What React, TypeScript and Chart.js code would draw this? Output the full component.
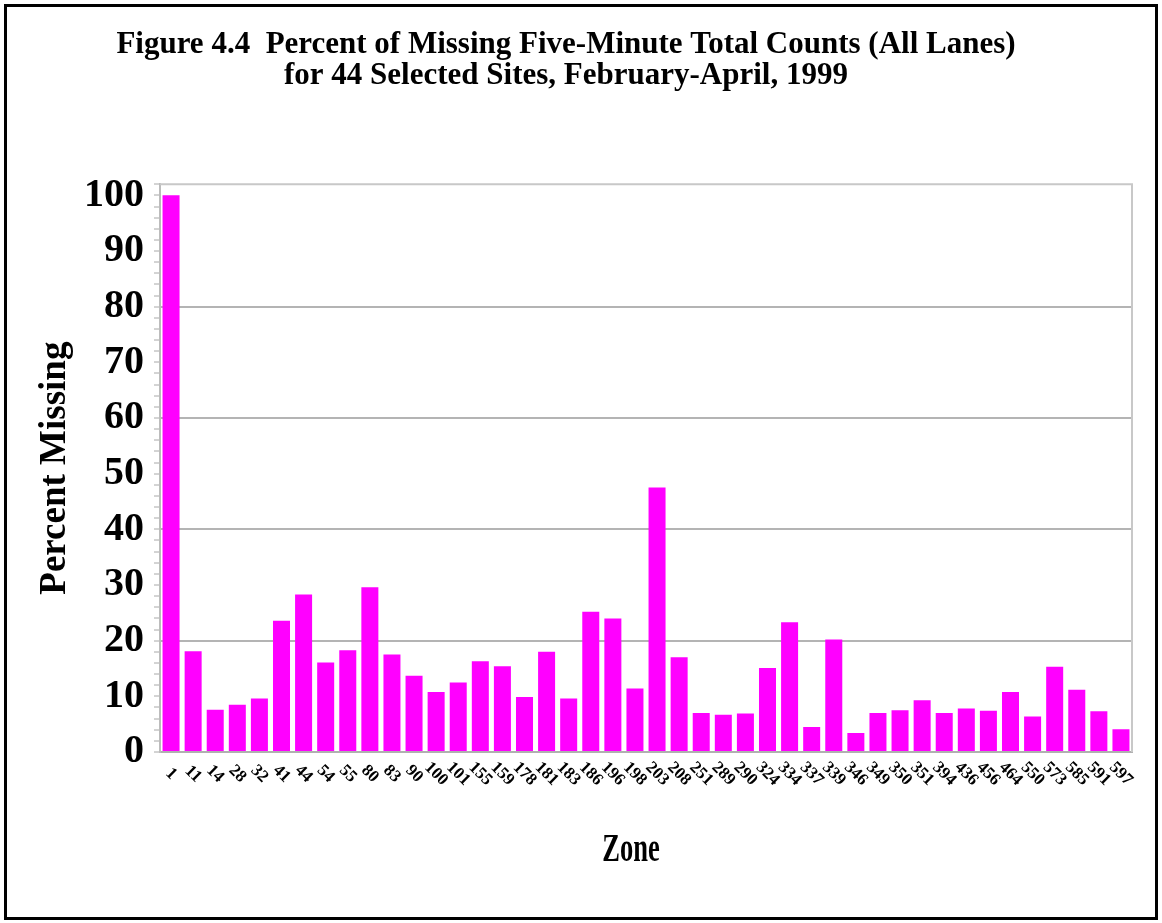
import React, { useEffect, useRef } from "react";
import { Chart, registerables } from "chart.js";

Chart.register(...registerables);

const titleLines = [
  "Figure 4.4  Percent of Missing Five-Minute Total Counts (All Lanes)",
  "for 44 Selected Sites, February-April, 1999",
];
const yAxisTitle = "Percent Missing";
const xAxisTitle = "Zone";

const zones = [
  "1", "11", "14", "28", "32", "41", "44", "54", "55", "80", "83", "90", "100", "101",
  "155", "159", "178", "181", "183", "186", "196", "198", "203", "208", "251", "289",
  "290", "324", "334", "337", "339", "346", "349", "350", "351", "394", "436", "456",
  "464", "550", "573", "585", "591", "597",
];
const percentMissing = [
  100, 18.1, 7.6, 8.5, 9.6, 23.6, 28.3, 16.1, 18.3, 29.6, 17.5, 13.7, 10.8, 12.5,
  16.3, 15.4, 9.9, 18.0, 9.6, 25.2, 24.0, 11.4, 47.5, 17.0, 7.0, 6.7,
  6.9, 15.1, 23.3, 4.5, 20.2, 3.4, 7.0, 7.5, 9.3, 7.0, 7.8, 7.4,
  10.8, 6.4, 15.3, 11.2, 7.3, 4.1,
];
const yMin = 0;
const yMax = 102;
const yStep = 2;
const yLabelStep = 10;
const yGridStep = 20;

const SERIF = '"Liberation Serif", "Times New Roman", serif';

const framePlugin = {
  id: "frame",
  afterDatasetsDraw(chart: any) {
    const { ctx, chartArea } = chart;
    ctx.save();
    ctx.strokeStyle = "#c8c8c8";
    ctx.lineWidth = 2;
    ctx.beginPath();
    ctx.moveTo(chartArea.left, chartArea.top);
    ctx.lineTo(chartArea.right, chartArea.top);
    ctx.lineTo(chartArea.right, chartArea.bottom);
    ctx.stroke();
    ctx.restore();
  },
};

const xLabelPlugin = {
  id: "xlabels",
  afterDraw(chart: any) {
    const { ctx, chartArea } = chart;
    const xs = chart.scales.x;
    ctx.save();
    ctx.fillStyle = "#000";
    ctx.font = `bold 17px ${SERIF}`;
    ctx.textAlign = "center";
    ctx.textBaseline = "middle";
    zones.forEach((z, i) => {
      const x = xs.getPixelForTick(i);
      ctx.save();
      ctx.translate(x, chartArea.bottom + 22);
      ctx.rotate(Math.PI / 4);
      ctx.fillText(z, 0, 0);
      ctx.restore();
    });
    // x axis title (condensed)
    ctx.save();
    ctx.font = `bold 39px ${SERIF}`;
    ctx.translate((chartArea.left + chartArea.right) / 2 - 15, chartArea.bottom + 99);
    ctx.scale(0.68, 1);
    ctx.fillText(xAxisTitle, 0, 0);
    ctx.restore();
    ctx.restore();
  },
};

export default function App() {
  const ref = useRef<HTMLCanvasElement>(null);
  useEffect(() => {
    if (!ref.current) return;
    const chart = new Chart(ref.current, {
      type: "bar",
      data: {
        labels: zones,
        datasets: [
          {
            data: percentMissing,
            backgroundColor: "#ff00ff",
            borderWidth: 0,
            barPercentage: 0.77,
            categoryPercentage: 1.0,
          },
        ],
      },
      options: {
        animation: false,
        responsive: false,
        layout: { padding: { left: 0, right: 30, top: 0, bottom: 0 } },
        plugins: {
          legend: { display: false },
          tooltip: { enabled: false },
          title: {
            display: true,
            text: titleLines,
            color: "#000",
            font: { family: SERIF, size: 31, weight: "bold", lineHeight: 1.02 },
            padding: { top: 29, bottom: 92 },
          },
        },
        scales: {
          x: {
            type: "category",
            offset: true,
            grid: { display: false, drawTicks: false },
            border: { display: true, color: "#b0b0b0", width: 2 },
            ticks: { display: false },
            afterFit: (scale: any) => {
              scale.height = 171;
            },
          },
          y: {
            min: yMin,
            max: yMax,
            ticks: {
              stepSize: yStep,
              autoSkip: false,
              color: "#000",
              padding: 10,
              font: { family: SERIF, size: 40, weight: "bold" },
              callback: (v: any) => (Number(v) % yLabelStep === 0 ? String(v) : ""),
            },
            grid: {
              color: (c: any) => {
                const v = c.tick ? c.tick.value : 0;
                return v > 0 && v < 100 && v % yGridStep === 0 ? "#b4b4b4" : "rgba(0,0,0,0)";
              },
              lineWidth: 2,
              tickColor: "#a8a8a8",
              tickLength: 6,
              tickWidth: 1,
            },
            border: { display: true, color: "#bcbcbc", width: 2 },
            title: {
              display: true,
              text: yAxisTitle,
              color: "#000",
              font: { family: SERIF, size: 37, weight: "bold" },
              padding: { top: 33, bottom: 0 },
            },
            afterFit: (scale: any) => {
              scale.width = 160;
            },
          },
        },
      },
      plugins: [framePlugin, xLabelPlugin],
    });
    return () => chart.destroy();
  }, []);

  return (
    <div style={{ position: "fixed", left: 0, top: 0, width: 1162, height: 923, background: "#fff" }}>
      <canvas ref={ref} width={1162} height={923} style={{ display: "block", width: 1162, height: 923 }} />
      <div
        style={{
          position: "absolute",
          left: 4,
          top: 4,
          width: 1154,
          height: 916,
          border: "3px solid #000",
          boxSizing: "border-box",
          pointerEvents: "none",
        }}
      />
    </div>
  );
}
